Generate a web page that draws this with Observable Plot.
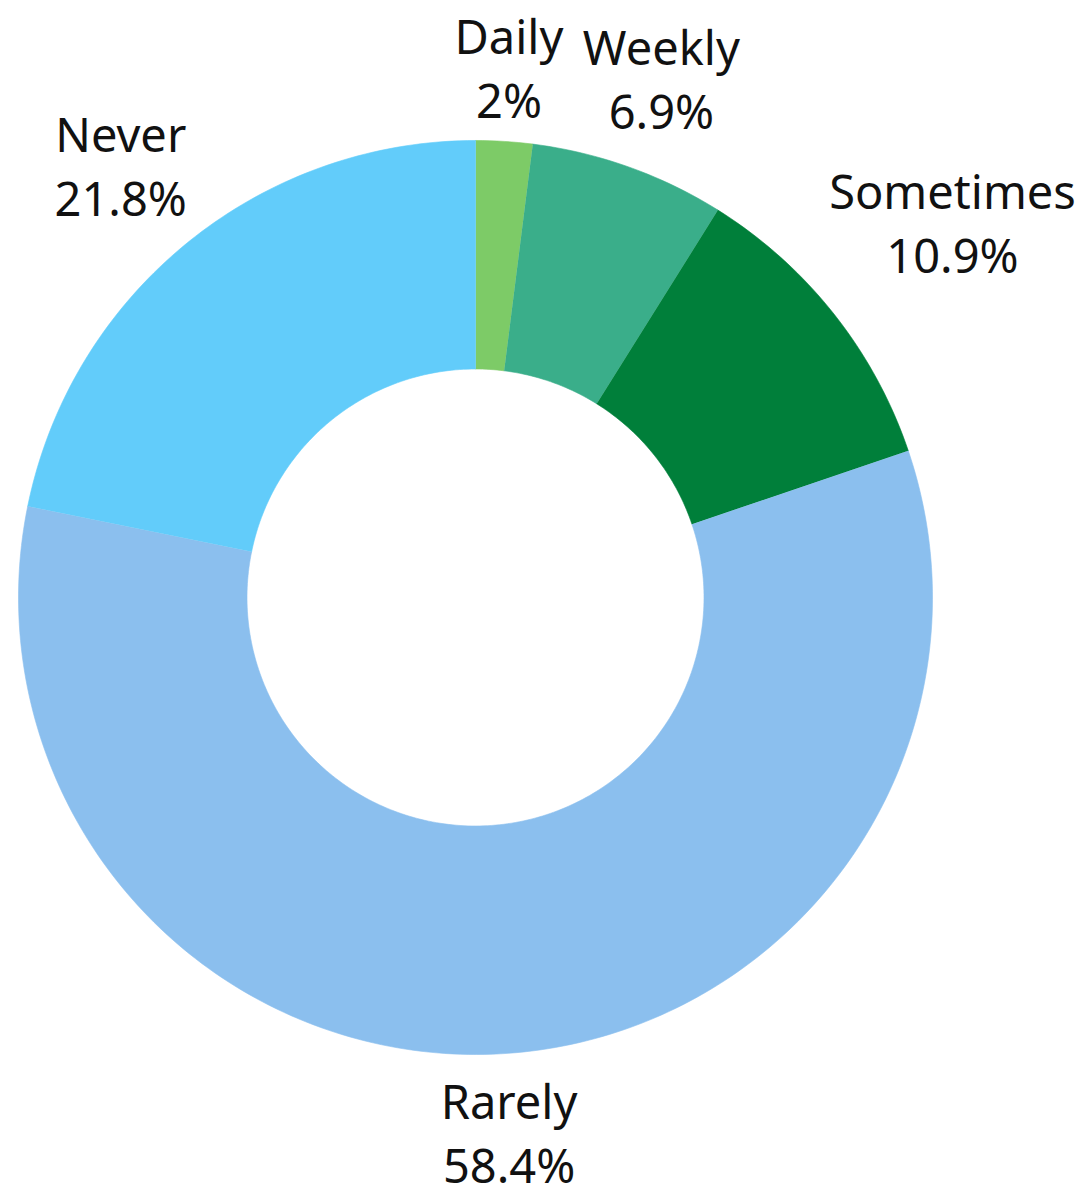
<!DOCTYPE html>
<html>
<head>
<meta charset="utf-8">
<script src="https://cdn.jsdelivr.net/npm/d3@7"></script>
<script src="https://cdn.jsdelivr.net/npm/@observablehq/plot@0.6"></script>
<style>
  html, body { margin: 0; padding: 0; background: #fff; }
  #chart svg { display: block; }
</style>
</head>
<body>
<div id="chart"></div>
<script>
// ---- data ----
const categories = ["Daily", "Weekly", "Sometimes", "Rarely", "Never"];
const shares = [2, 6.9, 10.9, 58.4, 21.8];
const shareLabels = ["2%", "6.9%", "10.9%", "58.4%", "21.8%"];
const colors = ["#7dcb67", "#3aae8a", "#007f3a", "#8bbfee", "#62ccfa"];

// ---- layout ----
const W = 1088, H = 1188;
const cx = 475, cy = 597, R = 457;        // pixels
const innerRatio = 0.5;
const fontSize = 47;
const fontFamily = "'Noto Sans', 'Open Sans', sans-serif";
const lineGap = 64;          // px between the two label lines
const labelGap = 24;         // px between ring and label box
const halfBlock = 49;        // half height of the label block

const total = d3.sum(shares);
const ctx = document.createElement("canvas").getContext("2d");
ctx.font = `${fontSize}px ${fontFamily}`;

let cum = 0;
const wedges = [];
const labels = [];
categories.forEach((cat, i) => {
  const a0 = cum / total * 2 * Math.PI;
  cum += shares[i];
  const a1 = cum / total * 2 * Math.PI;
  const n = Math.max(4, Math.ceil((a1 - a0) / (Math.PI / 180)));
  for (let k = 0; k <= n; k++) {
    const a = a0 + (a1 - a0) * k / n;
    wedges.push({cat, x: Math.sin(a), y: Math.cos(a)});
  }
  for (let k = n; k >= 0; k--) {
    const a = a0 + (a1 - a0) * k / n;
    wedges.push({cat, x: innerRatio * Math.sin(a), y: innerRatio * Math.cos(a)});
  }
  const am = (a0 + a1) / 2;
  const w = Math.max(ctx.measureText(cat).width, ctx.measureText(shareLabels[i]).width);
  const ext = Math.abs(Math.sin(am)) * w / 2 + Math.abs(Math.cos(am)) * halfBlock;
  let dist = (R + labelGap + ext) / R;
  let lx = dist * Math.sin(am), ly = dist * Math.cos(am);
  // keep inside the picture horizontally
  const maxX = (W - cx - 8 - w / 2) / R;
  if (lx > maxX) lx = maxX;
  labels.push({cat, text: cat + "\n" + shareLabels[i], x: lx, y: ly});
});

const chart = Plot.plot({
  width: W,
  height: H,
  margin: 0,
  x: {domain: [-cx / R, (W - cx) / R], range: [0, W], axis: null},
  y: {domain: [-(H - cy) / R, cy / R], range: [H, 0], axis: null},
  color: {domain: categories, range: colors},
  style: {fontFamily, background: "#fff"},
  marks: [
    Plot.line(wedges, {x: "x", y: "y", z: "cat", fill: "cat", stroke: "cat", strokeWidth: 0.6, curve: "linear"}),
    Plot.text(labels, {x: "x", y: "y", text: "text", fontSize, lineHeight: lineGap / fontSize, lineAnchor: "middle", textAnchor: "middle", fill: "#111"})
  ]
});
document.getElementById("chart").appendChild(chart);
</script>
</body>
</html>
